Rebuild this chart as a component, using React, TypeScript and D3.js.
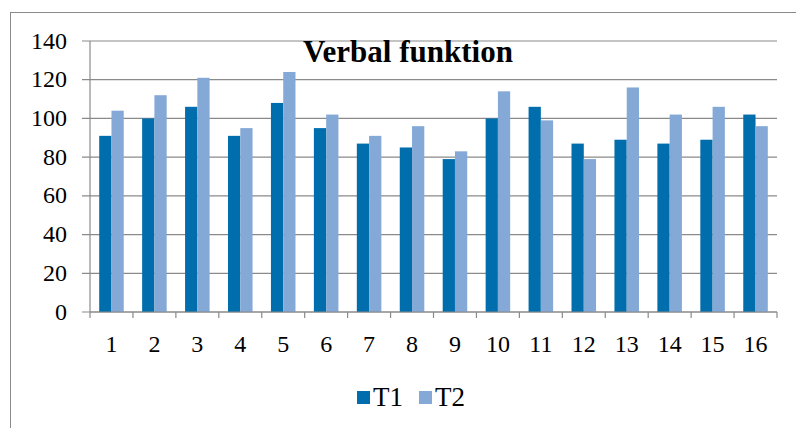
import React from 'react';
import * as d3 from 'd3';

const width = 796;
const height = 428;

const categories = ['1', '2', '3', '4', '5', '6', '7', '8', '9', '10', '11', '12', '13', '14', '15', '16'];
const t1Values = [91, 100, 106, 91, 108, 95, 87, 85, 79, 100, 106, 87, 89, 87, 89, 102];
const t2Values = [104, 112, 121, 95, 124, 102, 91, 96, 83, 114, 99, 79, 116, 102, 106, 96];
const yTicks = [0, 20, 40, 60, 80, 100, 120, 140];
const seriesNames = ['T1', 'T2'];
const colors = ['#006EAD', '#85A9D6'];

const plot = { left: 90, right: 777, top: 41, bottom: 312 };
const font = "'Times New Roman', 'Liberation Serif', Times, 'DejaVu Serif', serif";

const App: React.FC = () => {
  const x = d3.scaleBand<string>().domain(categories).range([plot.left, plot.right]);
  const y = d3.scaleLinear().domain([0, 140]).range([plot.bottom, plot.top]);
  const barW = x.bandwidth() / 3.5;
  const series = [t1Values, t2Values];

  return (
    <svg
      width={width}
      height={height}
      style={{ position: 'absolute', left: 0, top: 0, background: '#fff' }}
    >
      <g style={{ fontFamily: font }}>
        <rect x={10.5} y={12.5} width={width} height={height} fill="none" stroke="#8a8a8a" strokeWidth={1} />

        {yTicks.map(t => (
          <g key={t}>
            <line x1={plot.left - 8} x2={plot.right} y1={y(t)} y2={y(t)} stroke="#8a8a8a" strokeWidth={1.2} />
            <text x={67} y={y(t) + 7.5} textAnchor="end" fontSize={24} fill="#000" style={{ fontFamily: font }}>
              {t}
            </text>
          </g>
        ))}

        {series.map((vals, si) =>
          vals.map((v, i) => {
            const cx = (x(categories[i]) as number) + x.bandwidth() / 2;
            const bx = cx - barW + si * barW;
            return (
              <rect
                key={`${si}-${i}`}
                x={bx}
                y={y(v)}
                width={barW}
                height={y(0) - y(v)}
                fill={colors[si]}
              />
            );
          })
        )}

        <line x1={plot.left} x2={plot.left} y1={plot.top} y2={plot.bottom + 6} stroke="#8a8a8a" strokeWidth={1.2} />
        <line x1={plot.left} x2={plot.right} y1={plot.bottom} y2={plot.bottom} stroke="#8a8a8a" strokeWidth={1.2} />
        {categories.map(c => (
          <line
            key={c}
            x1={(x(c) as number) + x.bandwidth()}
            x2={(x(c) as number) + x.bandwidth()}
            y1={plot.bottom}
            y2={plot.bottom + 6}
            stroke="#8a8a8a"
            strokeWidth={1.2}
          />
        ))}
        {categories.map(c => (
          <text
            key={c}
            x={(x(c) as number) + x.bandwidth() / 2}
            y={352}
            textAnchor="middle"
            fontSize={24}
            fill="#000"
            style={{ fontFamily: font }}
          >
            {c}
          </text>
        ))}

        <text
          x={408}
          y={62}
          textAnchor="middle"
          fontSize={31}
          fontWeight="bold"
          fill="#000"
          style={{ fontFamily: font }}
        >
          Verbal funktion
        </text>

        {seriesNames.map((name, i) => (
          <g key={name} transform={`translate(${357 + i * 62}, 391)`}>
            <rect x={0} y={0} width={13} height={13} fill={colors[i]} />
            <text x={16} y={15} fontSize={27} fill="#000" style={{ fontFamily: font }}>
              {name}
            </text>
          </g>
        ))}
      </g>
    </svg>
  );
};

export default App;
